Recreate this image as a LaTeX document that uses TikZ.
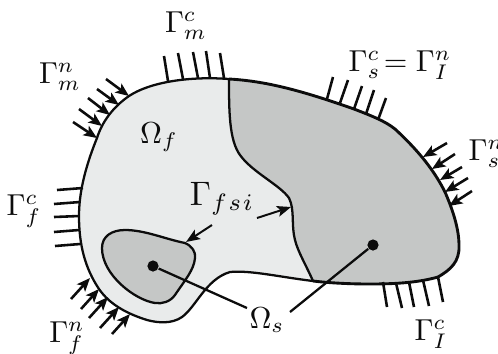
\documentclass[tikz,border=0pt]{standalone}
\usepackage{graphicx}
\usetikzlibrary{arrows.meta}
\definecolor{fluidc}{HTML}{E9EBEB}
\definecolor{solidc}{HTML}{C5C7C6}
\definecolor{inkc}{HTML}{0C0C0C}
\tikzset{
  hatch/.style={draw=inkc,line width=0.85pt},
  load/.style={draw=inkc,line width=0.85pt,-{Stealth[length=4.4pt,width=3.6pt,inset=1pt]}},
  leader/.style={draw=inkc,line width=0.75pt},
  pointer/.style={draw=inkc,line width=0.65pt,-{Stealth[length=4.6pt,width=3.6pt,inset=1pt]}},
  rim/.style={draw=inkc,line width=0.75pt},
  thickrim/.style={draw=inkc,line width=0.95pt},
  dot/.style={circle,fill=inkc,inner sep=0pt,minimum size=3.7pt},
  lab/.style={inner sep=0pt,text=inkc,anchor=base}
}
\newcommand{\outerleft}{(229,79) .. controls (190,76) and (150,82) .. (129,96) .. controls (113,107) and (102,122) .. (97,138) .. controls (84,170) and (79,195) .. (79,216) .. controls (79,245) and (85,268) .. (99,289) .. controls (110,305) and (128,314) .. (147,320) .. controls (158,323) and (172,324) .. (182,317) .. controls (196,307) and (206,279) .. (230,272) .. controls (250,270) and (280,277) .. (313,281)}
\newcommand{\outerright}{(229,79) .. controls (265,81) and (300,90) .. (354,109) .. controls (372,116) and (385,121) .. (395,129) .. controls (420,152) and (435,172) .. (445,192) .. controls (452,208) and (459,228) .. (459,245) .. controls (460,262) and (450,270) .. (438,277) .. controls (420,282) and (400,284) .. (370,284) .. controls (350,284) and (330,283) .. (313,281)}
\newcommand{\ifaceback}{(313,281) .. controls (306,265) and (298,252) .. (295,240) .. controls (291,225) and (295,210) .. (289,198) .. controls (280,185) and (252,172) .. (240,155) .. controls (229,140) and (229,110) .. (229,79)}
\newcommand{\blobpath}{(102,248) .. controls (102,236) and (112,230) .. (125,230) .. controls (145,230) and (165,239) .. (185,243) .. controls (192,246) and (196,252) .. (195,258) .. controls (194,270) and (185,280) .. (175,295) .. controls (170,302) and (162,304) .. (155,303) .. controls (135,300) and (102,275) .. (102,248) -- cycle}
\begin{document}
\begin{tikzpicture}[x=0.33pt,y=-0.33pt]
\useasboundingbox (0,0) rectangle (498,353);
% regions
\fill[fluidc] \outerleft -- (300,200) -- cycle;
\fill[solidc] \blobpath;
\fill[solidc] \outerright .. controls (306,265) and (298,252) .. (295,240) .. controls (291,225) and (295,210) .. (289,198) .. controls (280,185) and (252,172) .. (240,155) .. controls (229,140) and (229,110) .. (229,79) -- cycle;
% outlines
\draw[rim,line join=round] \outerleft;
\draw[thickrim,line join=round] \outerright;
\draw[rim] \ifaceback;
\draw[rim] \blobpath;
% hatches
\foreach \xa/\ya/\xb/\yb in {164/56/168/81,178/53/183/79,193/52/198/78,206/51/210/78,220/53/224/78,
  333/77/327/99,348/80/340/103,362/86/354/109,374/90/366/114,386/98/378/120,
  383/282/387/307,396/283/402/308,409/282/414/307,423/280/429/306,438/277/443/302,
  57/190/83/188,54/204/80/202,54/217/79/216,54/232/79/230,55/246/80/244}
  \draw[hatch] (\xa,\ya) -- (\xb,\yb);
% load arrows
\foreach \xa/\ya/\xb/\yb in {73/122/97/138,79/109/102/126,88/98/110/115,97/89/119/105,106/79/129/96,
  447/143/423/157,455/154/432/169,462/167/440/180,468/178/445/192,472/191/449/206,
  71/299/90/278,81/309/99/289,89/318/108/297,100/328/119/307,112/334/130/314}
  \draw[load] (\xa,\ya) -- (\xb,\yb);
% labels
\node[lab] (gmc) at (186,32) {$\Gamma_m^c$};
\node[lab] (gmn) at (60,83) {$\Gamma_m^n$};
\node[lab] (of) at (159,143) {$\Omega_f$};
\node[lab] (gsc) at (400,71) {$\Gamma_s^c\!=\Gamma_I^n$};
\node[lab,anchor=base west] (gsn) at (468,160) {$\Gamma_s^n$};
\node[lab] (gfc) at (24,215) {$\Gamma_f^c$};
\node[lab] (gfsi) at (222,205) {\scalebox{1.12}{$\Gamma_{f\mskip1mu s\mskip1mu i}$}};
\node[lab] (gfn) at (67,342) {$\Gamma_f^n$};
\node[lab] (os) at (267,328) {$\Omega_s$};
\node[lab] (gic) at (431,340) {$\Gamma_I^c$};
% leaders
\node[dot] (d1) at (153,266) {};
\node[dot] (d2) at (373,245) {};
\coordinate (e1) at (247,308);
\coordinate (e2) at (290,312);
\coordinate (p1s) at (212,225);
\coordinate (p1e) at (186,242);
\coordinate (p2s) at (257,218);
\coordinate (p2e) at (291,207);
\draw[leader] (d1) -- (e1);
\draw[leader] (d2) -- (e2);
\draw[pointer] (p1s) -- (p1e);
\draw[pointer] (p2s) -- (p2e);
\end{tikzpicture}
\end{document}
